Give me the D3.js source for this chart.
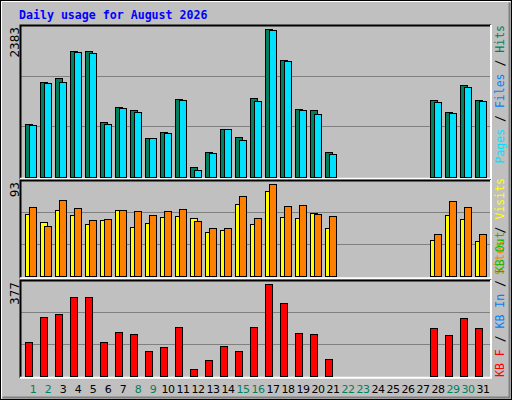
<!DOCTYPE html>
<html><head><meta charset="utf-8">
<script src="https://cdn.jsdelivr.net/npm/d3@7"></script>
<style>body{margin:0;background:#fff}svg{display:block}</style>
</head><body>
<svg id="chart" width="512" height="400"></svg>
<script>
// daily values, August 2026 (days 22-27 have no data)
const days = d3.range(1, 32);
const weekend = [1, 2, 8, 9, 15, 16, 22, 23, 29, 30];
const hits  = [849,1530,1595,2033,2033,882,1125,1076,622,720,1255,152,396,768,639,1271,2383,1890,1095,1080,400,0,0,0,0,0,0,1240,1045,1485,1240];
const files = [833,1514,1530,2017,2000,849,1109,1044,622,703,1238,104,379,768,590,1222,2360,1860,1080,1015,370,0,0,0,0,0,0,1210,1030,1440,1225];
const visits = [63,55,67,62,53,57,67,50,54,60,61,59,45,47,73,53,86,60,59,64,49,0,0,0,0,0,0,37,62,58,36];
const sites  = [70,51,77,69,57,58,67,66,62,66,68,56,49,49,81,59,93,71,72,63,61,0,0,0,0,0,0,43,76,70,43];
const kbytes = [138,241,253,323,323,138,179,171,101,117,200,26,64,121,101,200,377,299,175,171,68,0,0,0,0,0,0,196,167,237,196];

const svg = d3.select("#chart");
const mono = "'DejaVu Sans Mono', monospace";

// background + bevel
svg.append("rect").attr("width", 512).attr("height", 400).attr("fill", "#c0c0c0");
svg.append("rect").attr("x", 0.5).attr("y", 0.5).attr("width", 511).attr("height", 399).attr("fill", "none").attr("stroke", "#000");
svg.append("path").attr("d", "M1.5,398.5V1.5H510.5").attr("fill", "none").attr("stroke", "#fff");
svg.append("path").attr("d", "M2.5,397.5H509.5V2.5").attr("fill", "none").attr("stroke", "#808080").attr("stroke-width", 2);

svg.append("text").attr("x", 19).attr("y", 19).attr("font-family", mono).attr("font-weight", "bold")
  .attr("font-size", 11.6).attr("fill", "#0000ff").text("Daily usage for August 2026");

const x = d3.scaleLinear().domain([1, 31]).range([25, 475]);
const x0 = 20, x1 = 491;

const panels = [
  { top: 25, base: 176.7, max: 2383, peak: 29, series: [[hits, "#00805c", 0], [files, "#00e0ff", 4]],
    legend: [["Pages", "#00e0ff"], [" / ", "#000"], ["Files", "#0080ff"], [" / ", "#000"], ["Hits", "#00805c"]], lanchor: "end", ly: 25 },
  { top: 180, base: 276.3, max: 93, peak: 184.3, series: [[visits, "#ffff00", 0], [sites, "#ff8000", 4]],
    legend: [["Sites", "#ff8000"], [" / ", "#000"], ["Visits", "#ffff00"]], lanchor: "end", ly: 178 },
  { top: 280, base: 375.7, max: 377, peak: 284.3, series: [[kbytes, "#ff0000", 0]],
    legend: [["KB F", "#ff0000"], [" / ", "#000"], ["KB In", "#0080ff"], [" / ", "#000"], ["KB Out", "#00c000"]], lanchor: "start", ly: 377 }
];

panels.forEach(p => {
  const y = d3.scaleLinear().domain([0, p.max]).range([p.base, p.peak]);
  const bottom = p.base + 2;
  // grid
  [1 / 3, 2 / 3].forEach(f => {
    const gy = Math.round(p.base - (p.base - p.top) * f) + 0.5;
    svg.append("line").attr("x1", x0).attr("x2", x1).attr("y1", gy).attr("y2", gy).attr("stroke", "#808080");
  });
  // frame: black top/left, white bottom/right
  svg.append("path").attr("d", `M${x0 + 0.5},${bottom}V${p.top + 0.5}H${x1}`).attr("fill", "none").attr("stroke", "#000").attr("stroke-width", 2);
  svg.append("path").attr("d", `M${x0},${bottom}H${x1}V${p.top}`).attr("fill", "none").attr("stroke", "#fff").attr("stroke-width", 2);

  p.series.forEach(([vals, col, off]) => {
    const w = p.series.length > 1 ? 7 : 7;
    svg.append("g").selectAll("rect").data(days.filter(d => vals[d - 1] > 0)).join("rect")
      .attr("x", d => x(d) + off + 0.5).attr("width", w)
      .attr("y", d => Math.round(y(vals[d - 1])) + 0.5)
      .attr("height", d => Math.round(p.base) - Math.round(y(vals[d - 1])))
      .attr("fill", col).attr("stroke", "#000");
  });

  // max label
  svg.append("text").attr("transform", `translate(19,${p.top + 2}) rotate(-90)`).attr("text-anchor", "end")
    .attr("font-family", "'DejaVu Sans', sans-serif").attr("font-size", 12).attr("fill", "#000").text(p.max);

  // legend
  const t = svg.append("text").attr("transform", `translate(504,${p.ly}) rotate(-90)`).attr("text-anchor", p.lanchor)
    .attr("font-family", mono).attr("font-size", 11.5);
  p.legend.forEach(([s, c]) => t.append("tspan").attr("fill", c).text(s));
});

// day labels
svg.append("g").selectAll("text").data(days).join("text")
  .attr("x", d => x(d) + 8).attr("y", 393).attr("text-anchor", "middle")
  .attr("font-family", "'DejaVu Sans', sans-serif").attr("font-size", 11).attr("letter-spacing", -0.5)
  .attr("fill", d => weekend.includes(d) ? "#00805c" : "#000").text(d => d);
</script>
</body></html>
